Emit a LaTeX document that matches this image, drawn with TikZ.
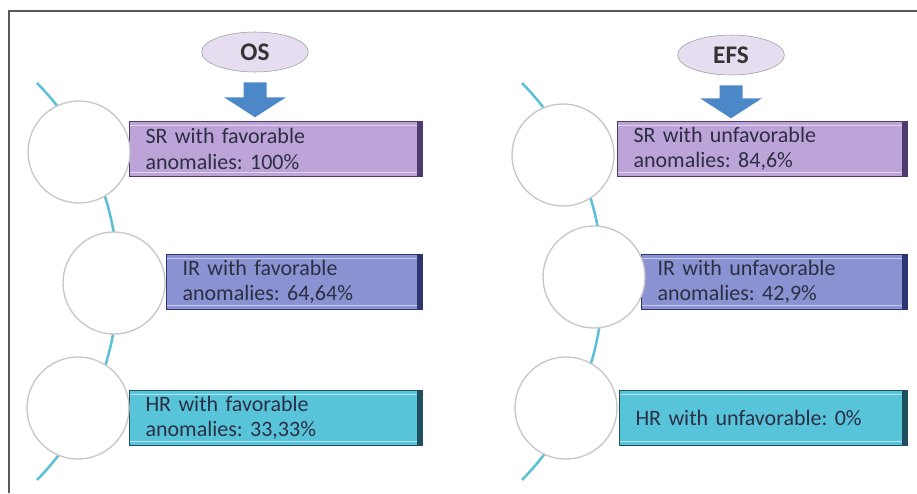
\documentclass[tikz,border=0pt]{standalone}
\usepackage{fontspec}
\setmainfont{Carlito}
\frenchspacing
\usetikzlibrary{positioning,shapes.geometric}

\definecolor{srfill}{HTML}{BCA3D8}
\definecolor{sredge}{HTML}{4E3A6E}
\definecolor{irfill}{HTML}{8A92D2}
\definecolor{iredge}{HTML}{2E3470}
\definecolor{hrfill}{HTML}{58C4DA}
\definecolor{hredge}{HTML}{1F4F5E}
\definecolor{arcline}{HTML}{5CC0D6}
\definecolor{headfill}{HTML}{E7DDF0}
\definecolor{arrowblue}{HTML}{4C88C8}
\definecolor{labeltext}{HTML}{2C2F44}

\tikzset{
  bar/.style 2 args={draw=#2, fill=#1, line width=0.8pt, minimum height=41pt, anchor=west,
    inner xsep=12pt, align=left, text=labeltext, font=\fontsize{16.5}{19}\selectfont,
    path picture={
      \draw[white, opacity=0.55, line width=1.2pt]
        ([yshift=-3pt]path picture bounding box.north west) -- ([yshift=-3pt]path picture bounding box.north east);
      \draw[white, opacity=0.55, line width=1.2pt]
        ([yshift=3pt]path picture bounding box.south west) -- ([yshift=3pt]path picture bounding box.south east);
      \fill[#2] ([xshift=-4pt]path picture bounding box.north east) rectangle (path picture bounding box.south east);
    }},
  ring/.style={circle, draw=black!22, fill=white, line width=1pt, minimum size=76.5pt, inner sep=0pt},
  head/.style={ellipse, draw=black!40, fill=headfill, minimum width=80pt, minimum height=30pt,
    inner sep=0pt, font=\fontsize{19}{21}\selectfont\bfseries, text=black!80},
  downarrow/.style={fill=arrowblue}
}

\begin{document}
\begin{tikzpicture}[x=0.75pt, y=-0.75pt]
    \useasboundingbox (0,0) rectangle (917,493);

    % Frame
    \draw[black!65, line width=0.8pt] (9,493) -- (9,11) -- (917,11);

    % Arcs behind the circles
    \draw[arcline, line width=1.9pt] (37,83) arc[start angle=-44.4, end angle=44.4, radius=283.7];
    \draw[arcline, line width=1.9pt] (522,83) arc[start angle=-44.4, end angle=44.4, radius=283.7];

    % Headings
    \node[head] (os) at (255,52) {OS};
    \node[head] (efs) at (731,55) {EFS};

    % Block arrows
    \fill[downarrow] ([shift={(-11.5,10)}]os.south) -- ++(23,0) -- ++(0,15) -- ++(19.5,0)
      -- ++(-31,20) -- ++(-31,-20) -- ++(19.5,0) -- cycle;
    \fill[downarrow] ([shift={(-11.5,10)}]efs.south) -- ++(23,0) -- ++(0,13) -- ++(19.5,0)
      -- ++(-31,20) -- ++(-31,-20) -- ++(19.5,0) -- cycle;

    % Bars and circles
    \foreach \n/\cx/\cy/\bx/\w/\by/\c/\txt in {
      l1/79/152/129/293/149/sr/{SR with favorable\\anomalies: 100\%},
      l2/114/283/166/256/282/ir/{IR with favorable\\anomalies: 64,64\%},
      l3/78/408/129/293/418/hr/{HR with favorable\\anomalies: 33,33\%},
      r1/563/155/617/290/149/sr/{SR with unfavorable\\anomalies: 84,6\%},
      r2/594/277/641/266/282/ir/{IR with unfavorable\\anomalies: 42,9\%},
      r3/566/408/619/288/418/hr/{HR with unfavorable: 0\%}} {
      \pgfmathsetmacro\tw{\w*0.75-24}
      \node[bar={\c fill}{\c edge}, text width=\tw pt] (bar\n) at (\bx,\by) {\txt};
      \node[ring] (ring\n) at (\cx,\cy) {};
    }

\end{tikzpicture}
\end{document}
